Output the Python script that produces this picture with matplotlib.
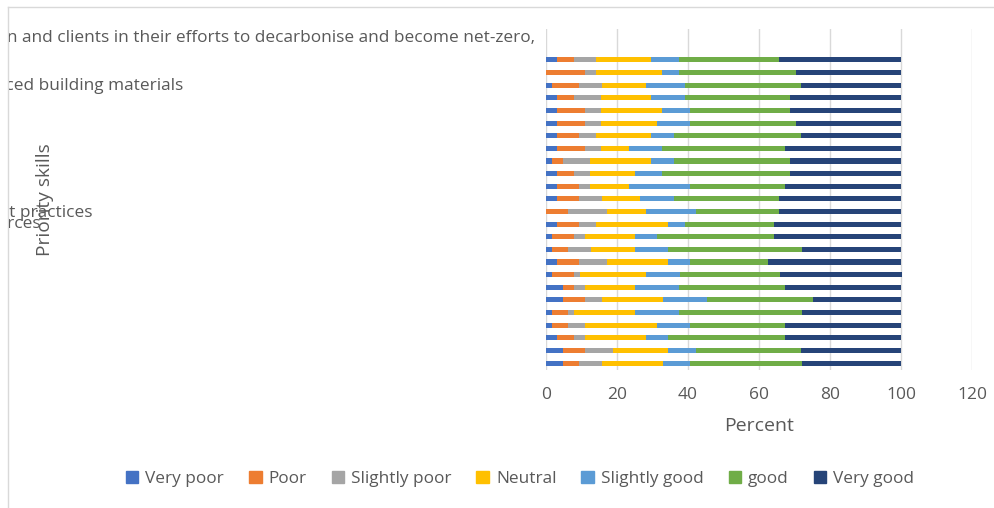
import matplotlib
matplotlib.use('Agg')
import matplotlib.pyplot as plt
import matplotlib.patches as mpatches
from matplotlib.lines import Line2D
from matplotlib.transforms import Bbox

plt.rcParams['font.family'] = ['Open Sans', 'DejaVu Sans']

# response categories and colours (Excel office palette)
levels = ['Very poor', 'Poor', 'Slightly poor', 'Neutral', 'Slightly good', 'good', 'Very good']
colors = ['#4472C4', '#ED7D31', '#A5A5A5', '#FFC000', '#5B9BD5', '#70AD47', '#264478']

# percent per skill, listed top bar -> bottom bar
very_poor     = [3.1, 0.0, 1.6, 3.1, 3.1, 3.1, 3.1, 3.1, 1.6, 3.1, 3.1, 3.1, 0.0, 3.1, 1.6, 1.6, 3.1, 1.6, 4.7, 4.7, 1.6, 1.6, 3.1, 4.7, 4.7]
poor          = [4.7, 10.9, 7.8, 4.7, 7.8, 7.8, 6.3, 7.8, 3.1, 4.7, 6.3, 6.3, 6.3, 6.3, 6.3, 4.7, 6.3, 6.3, 3.1, 6.3, 4.7, 4.7, 4.7, 6.3, 4.7]
slightly_poor = [6.3, 3.1, 6.3, 7.8, 4.7, 4.7, 4.7, 4.7, 7.8, 4.7, 3.1, 6.3, 10.9, 4.7, 3.1, 6.3, 7.8, 1.6, 3.1, 4.7, 1.6, 4.7, 3.1, 7.8, 6.3]
neutral       = [15.6, 18.8, 12.5, 14.1, 17.2, 15.6, 15.6, 7.8, 17.2, 12.5, 10.9, 10.9, 10.9, 20.3, 14.1, 12.5, 17.2, 18.8, 14.1, 17.2, 17.2, 20.3, 17.2, 15.6, 17.2]
slightly_good = [7.8, 4.7, 10.9, 9.4, 7.8, 9.4, 6.3, 9.4, 6.3, 7.8, 17.2, 9.4, 14.1, 4.7, 6.3, 9.4, 6.3, 9.4, 12.5, 12.5, 12.5, 9.4, 6.3, 7.8, 7.8]
good          = [28.1, 32.8, 32.8, 29.7, 28.1, 29.7, 35.9, 34.4, 32.8, 35.9, 26.6, 29.7, 23.4, 25.0, 32.8, 37.5, 21.9, 28.1, 29.7, 29.7, 34.4, 26.6, 32.8, 29.7, 31.3]
very_good     = [34.4, 29.7, 28.1, 31.3, 31.3, 29.7, 28.1, 32.8, 31.3, 31.3, 32.8, 34.4, 34.4, 35.9, 35.9, 28.1, 37.5, 34.4, 32.8, 25.0, 28.1, 32.8, 32.8, 28.1, 28.1]

series = [very_poor, poor, slightly_poor, neutral, slightly_good, good, very_good]
n = len(very_poor)
ypos = [n - 1 - i for i in range(n)]

fig = plt.figure(figsize=(9.95, 5.08), dpi=100)
ax = fig.add_axes([546 / 995, 1 - 370 / 508, 426 / 995, 341 / 508])

left = [0.0] * n
for vals, col, lab in zip(series, colors, levels):
    ax.barh(ypos, vals, left=left, height=0.4, color=col, label=lab, zorder=3)
    left = [a + b for a, b in zip(left, vals)]

ax.set_xlim(0, 120)
ax.set_ylim(-0.55, n - 1 + 2.45)
ax.set_xticks(range(0, 121, 20))
ax.set_yticks([])
ax.grid(axis='x', color='#D9D9D9', linewidth=1, zorder=0)
for s in ax.spines.values():
    s.set_visible(False)
ax.tick_params(axis='x', length=0, pad=12, labelsize=12.5, labelcolor='#595959')
ax.set_xlabel('Percent', fontsize=14, color='#595959', labelpad=10)

# overflowing category labels, cut off at the chart border
txt = '#595959'
clip = Bbox.from_extents(9, 0, 995, 508)
frags = [
    (535, 38, 'chain and clients in their efforts to decarbonise and become net-zero,'),
    (183, 86, 'sourced building materials'),
    (93, 213, 'management practices'),
    (41, 224, 'resources'),
]
for x, y, s in frags:
    t = fig.text(x / 995, 1 - y / 508, s, ha='right', va='center', fontsize=12.4, color=txt)
    t.set_clip_box(clip)
    t.set_clip_on(True)

fig.text(45 / 995, 1 - 200 / 508, 'Priority skills', rotation=90, ha='center', va='center',
         fontsize=13.8, color=txt)

# chart border
fig.add_artist(Line2D([8 / 995, 1], [1 - 7 / 508, 1 - 7 / 508], color='#D9D9D9', lw=1))
fig.add_artist(Line2D([8 / 995, 8 / 995], [0, 1 - 7 / 508], color='#D9D9D9', lw=1))

handles = [mpatches.Patch(color=c, label=l) for c, l in zip(colors, levels)]
fig.legend(handles=handles, loc='center', bbox_to_anchor=(520 / 995, 1 - 479 / 508), ncol=7,
           frameon=False, fontsize=12.4, handlelength=0.73, handleheight=0.73, handletextpad=0.4,
           columnspacing=1.45, labelcolor=txt)

fig.savefig('out.png', dpi=100)
